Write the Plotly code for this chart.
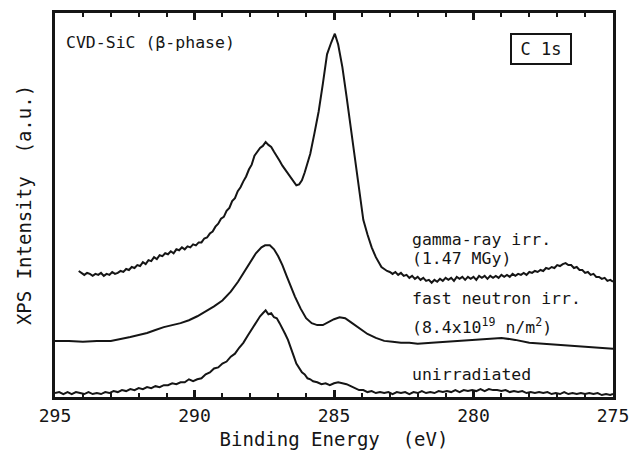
import plotly.graph_objects as go

# ---- data (binding energy in eV, intensity in arbitrary units) ----
gamma_be = [294.15, 294.05, 293.95, 293.85, 293.75, 293.65, 293.55, 293.45, 293.35, 293.25, 293.15, 293.05,
            292.95, 292.85, 292.75, 292.65, 292.55, 292.45, 292.35, 292.25, 292.15, 292.05, 291.95, 291.85,
            291.75, 291.65, 291.55, 291.45, 291.35, 291.25, 291.15, 291.05, 290.95, 290.85, 290.75, 290.65,
            290.55, 290.45, 290.35, 290.25, 290.15, 290.05, 289.95, 289.85, 289.75, 289.65, 289.55, 289.45,
            289.35, 289.25, 289.15, 289.05, 288.95, 288.85, 288.75, 288.65, 288.55, 288.45, 288.35, 288.25,
            288.15, 288.05, 287.95, 287.85, 287.75, 287.65, 287.55, 287.45, 287.35, 287.25, 287.15, 287.05,
            286.95, 286.85, 286.75, 286.65, 286.55, 286.45, 286.35, 286.25, 286.15, 286.05, 285.95, 285.85,
            285.7, 285.55, 285.4, 285.25, 285.1, 284.97, 284.85, 284.7, 284.55, 284.4, 284.25, 284.1,
            283.95, 283.8, 283.65, 283.5, 283.3,
            283.2, 283.1, 283.0, 282.9, 282.8, 282.7, 282.6, 282.5, 282.4, 282.3, 282.2, 282.1,
            282.0, 281.9, 281.8, 281.7, 281.6, 281.5, 281.4, 281.3, 281.2, 281.1, 281.0, 280.9,
            280.8, 280.7, 280.6, 280.5, 280.4, 280.3, 280.2, 280.1, 280.0, 279.9, 279.8, 279.7,
            279.6, 279.5, 279.4, 279.3, 279.2, 279.1, 279.0, 278.9, 278.8, 278.7, 278.6, 278.5,
            278.4, 278.3, 278.2, 278.1, 278.0, 277.9, 277.8, 277.7, 277.6, 277.5, 277.4, 277.3,
            277.2, 277.1, 277.0, 276.9, 276.8, 276.7, 276.6, 276.5, 276.4, 276.3, 276.2, 276.1,
            276.0, 275.9, 275.8, 275.7, 275.6, 275.5, 275.4, 275.3, 275.2, 275.1, 275.0]
gamma_int = [128, 126, 124, 126, 125, 123, 125, 124, 126, 123, 125, 124,
             127, 125, 126, 128, 127, 130, 129, 132, 131, 134, 133, 137,
             135, 139, 138, 142, 140, 144, 143, 146, 145, 148, 146, 150,
             149, 152, 150, 153, 152, 155, 154, 157, 157, 161, 162, 166,
             168, 173, 176, 181, 183, 189, 192, 199, 202, 209, 213, 219,
             224, 231, 236, 245, 249, 253, 255, 259, 256, 254, 249, 245,
             240, 235, 231, 226, 222, 218, 215, 216, 220, 228, 238, 247,
             268, 290, 318, 348, 360, 369, 358, 335, 305, 273, 240, 208,
             180, 165, 152, 142, 132,
             130, 128, 127, 125, 127, 124, 126, 123, 124, 121, 123, 120,
             122, 119, 121, 118, 119, 116, 119, 117, 120, 118, 121, 119,
             121, 118, 122, 120, 122, 119, 122, 120, 122, 119, 123, 121,
             123, 120, 123, 121, 123, 121, 124, 122, 124, 122, 125, 123,
             125, 124, 126, 124, 127, 126, 128, 127, 129, 128, 131, 130,
             132, 131, 134, 133, 135, 136, 134, 134, 131, 132, 129, 129,
             126, 127, 124, 125, 122, 122, 120, 121, 118, 119, 117]

neutron_be = [295.0, 294.5, 294.0, 293.5, 293.0, 292.6, 292.3, 292.0, 291.7, 291.4, 291.1, 290.8,
              290.5, 290.2, 289.9, 289.6, 289.3, 289.0, 288.7, 288.44, 288.2, 288.0, 287.8, 287.6,
              287.47, 287.3, 287.15, 287.0, 286.85, 286.7, 286.55, 286.4, 286.2, 286.0, 285.8, 285.6,
              285.4, 285.2, 285.0, 284.8, 284.6, 284.4, 284.2, 284.0, 283.8, 283.5, 283.2, 282.9,
              282.6, 282.3, 282.0, 281.5, 281.0, 280.5, 280.0, 279.5, 279.0, 278.5, 278.0, 277.5,
              277.0, 276.5, 276.0, 275.5, 275.0]
neutron_int = [57, 57, 56, 57, 57, 59, 61, 63, 65, 68, 71, 73,
               75, 78, 82, 87, 92, 98, 107, 117, 128, 137, 146, 152,
               154, 154, 150, 143, 134, 123, 112, 102, 90, 80, 75, 73,
               73, 76, 79, 81, 80, 76, 72, 68, 64, 60, 57, 56,
               55, 55, 54, 55, 56, 57, 58, 59, 60, 58, 55, 54,
               53, 52, 51, 50, 49]

unirr_be = [295.0, 294.85, 294.7, 294.55, 294.4, 294.25, 294.1, 293.95, 293.8, 293.65, 293.5, 293.35,
            293.2, 293.05, 292.9, 292.75, 292.6, 292.45, 292.3, 292.15, 292.0, 291.85, 291.7, 291.55,
            291.4, 291.25, 291.1, 290.95, 290.8, 290.65, 290.5, 290.35, 290.2, 290.05, 289.9, 289.75,
            289.6, 289.45, 289.3, 289.15, 289.0, 288.85, 288.7, 288.55, 288.4, 288.25, 288.1, 287.95,
            287.85, 287.75, 287.65, 287.55, 287.45, 287.35, 287.25, 287.15, 287.05, 286.95, 286.85, 286.75,
            286.65, 286.55, 286.45, 286.35, 286.25, 286.15, 286.05, 285.95, 285.85, 285.75, 285.6, 285.45,
            285.3, 285.15, 285.0, 284.85, 284.7, 284.55, 284.4, 284.25, 284.1, 283.95, 283.8, 283.65,
            283.5, 283.35, 283.2, 283.05, 282.9, 282.75, 282.6, 282.45, 282.3, 282.15, 282.0, 281.85,
            281.7, 281.55, 281.4, 281.25, 281.1, 280.95, 280.8, 280.65, 280.5, 280.35, 280.2, 280.05,
            279.9, 279.75, 279.6, 279.45, 279.3, 279.15, 279.0, 278.85, 278.7, 278.55, 278.4, 278.25,
            278.1, 277.95, 277.8, 277.65, 277.5, 277.35, 277.2, 277.05, 276.9, 276.75, 276.6, 276.45,
            276.3, 276.15, 276.0, 275.85, 275.7, 275.55, 275.4, 275.25, 275.1, 275.0]
unirr_int = [4, 5, 3, 5, 3, 5, 4, 3, 5, 3, 4, 3,
             5, 4, 6, 5, 7, 6, 8, 7, 9, 8, 10, 9,
             11, 10, 12, 12, 14, 13, 15, 15, 18, 16, 18, 19,
             23, 25, 29, 30, 34, 36, 41, 44, 50, 55, 62, 69,
             73, 78, 82, 85, 88, 84, 85, 81, 80, 75, 70, 64,
             58, 49, 42, 34, 30, 25, 23, 19, 18, 16, 15, 13,
             14, 12, 14, 15, 14, 13, 11, 9, 7, 7, 5, 6,
             4, 5, 4, 5, 3, 5, 4, 5, 3, 5, 4, 6,
             4, 5, 4, 6, 5, 6, 5, 7, 5, 7, 6, 7,
             6, 8, 6, 8, 7, 7, 6, 7, 5, 6, 5, 6,
             4, 5, 4, 5, 4, 5, 3, 4, 3, 5, 3, 4,
             3, 4, 3, 4, 3, 4, 2, 3, 2, 3]

x_ticks = [295, 290, 285, 280, 275]
x_tick_labels = ["295", "290", "285", "280", "275"]

FONT = "DejaVu Sans Mono"
INK = "#151515"
LINE = dict(color=INK, width=2)

fig = go.Figure()
for xs, ys in [(gamma_be, gamma_int), (neutron_be, neutron_int), (unirr_be, unirr_int)]:
    fig.add_trace(go.Scatter(x=xs, y=ys, mode="lines", line=LINE, showlegend=False, hoverinfo="skip"))

ann = dict(xref="paper", yref="paper", showarrow=False, xanchor="left", yanchor="middle",
           font=dict(family=FONT, size=16.5, color=INK))

def px_x(px):
    return (px - 55) / (613 - 55)

def px_y(py):
    return (400 - py) / (400 - 10)

fig.add_annotation(text="CVD-SiC (β-phase)", x=px_x(64), y=px_y(40), **ann)
fig.add_annotation(text="gamma-ray irr.", x=px_x(410), y=px_y(240), **ann)
fig.add_annotation(text="(1.47 MGy)", x=px_x(410), y=px_y(259), **ann)
fig.add_annotation(text="fast neutron irr.", x=px_x(410), y=px_y(300), **ann)
fig.add_annotation(text="(8.4x10<sup>19</sup> n/m<sup>2</sup>)", x=px_x(410), y=px_y(328), **ann)
fig.add_annotation(text="unirradiated", x=px_x(410), y=px_y(377), **ann)
fig.add_annotation(text="C 1s", x=px_x(541), y=px_y(47), xref="paper", yref="paper",
                   showarrow=False, xanchor="center", yanchor="middle",
                   font=dict(family=FONT, size=17, color=INK),
                   bordercolor=INK, borderwidth=2, borderpad=3, width=52, height=22)

fig.update_layout(
    width=639, height=458,
    margin=dict(l=55, r=26, t=10, b=58),
    paper_bgcolor="white", plot_bgcolor="white",
    font=dict(family=FONT, size=18, color=INK),
    xaxis=dict(range=[295, 275], tickvals=x_ticks, ticktext=x_tick_labels,
               ticks="inside", ticklen=7, tickwidth=2.5, tickcolor=INK,
               minor=dict(dtick=1, ticks="inside", ticklen=4, tickwidth=2, tickcolor=INK),
               showline=True, linewidth=3, linecolor=INK, mirror="ticks",
               showgrid=False, zeroline=False,
               tickfont=dict(family=FONT, size=18),
               title=dict(text="Binding Energy  (eV)", font=dict(family=FONT, size=19), standoff=9)),
    yaxis=dict(range=[0, 390], showticklabels=False, ticks="",
               showline=True, linewidth=3, linecolor=INK, mirror=True,
               showgrid=False, zeroline=False,
               title=dict(text="XPS Intensity  (a.u.)", font=dict(family=FONT, size=19), standoff=16)),
)

fig.write_html("out.html")
